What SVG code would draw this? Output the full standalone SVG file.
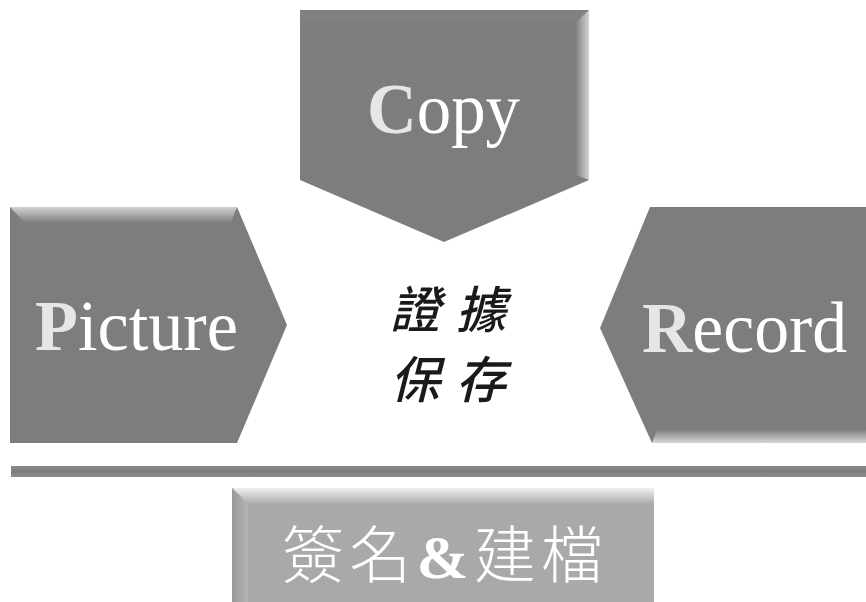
<svg xmlns="http://www.w3.org/2000/svg" width="866" height="602" viewBox="0 0 866 602">
<defs>
<linearGradient id="gRight" x1="0" y1="0" x2="1" y2="0"><stop offset="0" stop-color="#828282"/><stop offset="1" stop-color="#d4d4d4"/></linearGradient>
<linearGradient id="gTop" x1="0" y1="0" x2="0" y2="1"><stop offset="0" stop-color="#d2d2d2"/><stop offset="1" stop-color="#828282"/></linearGradient>
<linearGradient id="gBot" x1="0" y1="0" x2="0" y2="1"><stop offset="0" stop-color="#828282"/><stop offset="1" stop-color="#d6d6d6"/></linearGradient>
<linearGradient id="gTopL" x1="0" y1="0" x2="0" y2="1"><stop offset="0" stop-color="#f0f0f0"/><stop offset="1" stop-color="#ababab"/></linearGradient>
<linearGradient id="gLeftL" x1="0" y1="0" x2="1" y2="0"><stop offset="0" stop-color="#9a9a9a"/><stop offset="1" stop-color="#b4b4b4"/></linearGradient>
<linearGradient id="gBar" x1="0" y1="0" x2="0" y2="1"><stop offset="0" stop-color="#8a8a8a"/><stop offset="0.5" stop-color="#7c7c7c"/><stop offset="1" stop-color="#8c8c8c"/></linearGradient>
</defs>
<style>
.main{fill:#7d7d7d}
.en{font-family:"Liberation Serif","Times New Roman",serif;font-size:72px;fill:#ffffff}
.cap{font-weight:bold;fill:#e6e6e6}
.zh{font-family:"Noto Sans CJK TC","Noto Sans CJK SC",sans-serif;font-size:50px;fill:#1a1a1a;font-style:italic;font-weight:500}
.zhw{font-family:"Noto Sans CJK TC","Noto Sans CJK SC",sans-serif;font-size:62px;fill:#ffffff;font-weight:300}
.amp{font-family:"Liberation Serif","Times New Roman",serif;font-weight:bold}
</style>
<rect width="866" height="602" fill="#ffffff"/>
<g id="copy">
<polygon class="main" points="300,10 589,10 589,180 444,242 300,180"/>
<polygon fill="url(#gRight)" points="576,22 589,10 589,180 576,175"/>
<polygon fill="#8a8a8a" points="300,10 589,10 576,22 300,22" opacity="0.35"/>
<text class="en" x="367" y="133" textLength="153" lengthAdjust="spacingAndGlyphs"><tspan class="cap">C</tspan>opy</text>
</g>
<g id="picture">
<polygon class="main" points="10,207 237,207 287,325 237,443 10,443"/>
<polygon fill="url(#gTop)" points="10,207 237,207 231,222 24,222"/>
<text class="en" x="35" y="350" textLength="203" lengthAdjust="spacingAndGlyphs"><tspan class="cap">P</tspan>icture</text>
</g>
<g id="record">
<polygon class="main" points="650,207 866,207 866,443 652,443 600,328"/>
<polygon fill="url(#gBot)" points="657,430 866,430 866,443 652,443"/>
<text class="en" x="642" y="352" textLength="205" lengthAdjust="spacingAndGlyphs"><tspan class="cap">R</tspan>ecord</text>
</g>
<g id="center">
<text class="zh" x="390" y="328" textLength="116">證據</text>
<text class="zh" x="390" y="398" textLength="116">保存</text>
</g>
<g id="divider">
<rect x="11" y="466" width="855" height="11" fill="url(#gBar)"/>
</g>
<g id="sign">
<rect x="232" y="488" width="422" height="114" fill="#a9a9a9"/>
<polygon fill="url(#gTopL)" points="232,488 654,488 654,504 248,504"/>
<polygon fill="url(#gLeftL)" points="232,488 248,504 248,602 232,602"/>
<text class="zhw" x="282" y="578" textLength="321">簽名<tspan class="amp">&amp;</tspan>建檔</text>
</g>
<g id="connectors"/>
</svg>
